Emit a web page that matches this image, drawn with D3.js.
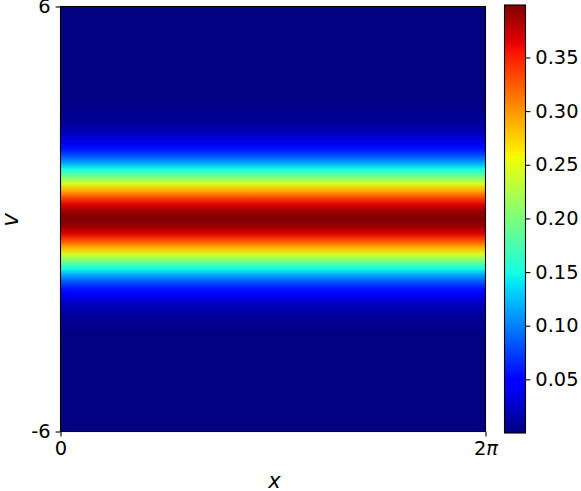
<!DOCTYPE html>
<html>
<head>
<meta charset="utf-8">
<script src="https://cdn.jsdelivr.net/npm/d3@7"></script>
<style>
  body { margin: 0; background: #fff; }
  text { font-family: "DejaVu Sans", sans-serif; }
</style>
</head>
<body>
<div id="chart"></div>
<script>
const width = 581;
const height = 491;

// velocity grid and distribution values (constant along x)
const vValues = [
  -6.0, -5.8, -5.6, -5.4, -5.2, -5.0, -4.8, -4.6, -4.4, -4.2,
  -4.0, -3.8, -3.6, -3.4, -3.2, -3.0, -2.8, -2.6, -2.4, -2.2,
  -2.0, -1.8, -1.6, -1.4, -1.2, -1.0, -0.8, -0.6, -0.4, -0.2,
  0.0,
  0.2, 0.4, 0.6, 0.8, 1.0, 1.2, 1.4, 1.6, 1.8, 2.0,
  2.2, 2.4, 2.6, 2.8, 3.0, 3.2, 3.4, 3.6, 3.8, 4.0,
  4.2, 4.4, 4.6, 4.8, 5.0, 5.2, 5.4, 5.6, 5.8, 6.0
];
const fValues = [
  0, 0, 0, 0, 0, 0, 0, 0, 0, 0,
  0.0001, 0.0003, 0.0006, 0.0012, 0.0024, 0.0044, 0.0079, 0.0136, 0.0224, 0.0355,
  0.054, 0.079, 0.1109, 0.1497, 0.1942, 0.242, 0.2897, 0.3332, 0.3683, 0.391,
  0.3989,
  0.391, 0.3683, 0.3332, 0.2897, 0.242, 0.1942, 0.1497, 0.1109, 0.079, 0.054,
  0.0355, 0.0224, 0.0136, 0.0079, 0.0044, 0.0024, 0.0012, 0.0006, 0.0003, 0.0001,
  0, 0, 0, 0, 0, 0, 0, 0, 0, 0
];
const xTicks = [0, 2 * Math.PI];
const vTicks = [-6, 6];
const cbTicks = [0.05, 0.10, 0.15, 0.20, 0.25, 0.30, 0.35];

// matplotlib "jet"
const jetStops = [0, 0.11, 0.125, 0.34, 0.35, 0.375, 0.64, 0.65, 0.66, 0.89, 0.91, 1];
const jetColors = [
  [0, 0, 0.5], [0, 0, 1], [0, 0, 1], [0, 0.86, 1], [0, 0.9, 0.968], [0.081, 1, 0.887],
  [0.935, 1, 0.032], [0.968, 0.963, 0], [1, 0.926, 0], [1, 0.074, 0], [0.909, 0, 0], [0.5, 0, 0]
].map(c => d3.rgb(c[0] * 255, c[1] * 255, c[2] * 255).toString());

const fMin = 0;
const fMax = d3.max(fValues);
const jet = d3.scaleLinear().domain(jetStops).range(jetColors).clamp(true);
const color = d3.scaleLinear().domain([fMin, fMax]).range([0, 1]);

const plot = { left: 60.5, top: 6.5, right: 485.5, bottom: 431.5 };
const cbar = { left: 504.5, right: 525.5, top: 5, bottom: 433 };

const x = d3.scaleLinear().domain([0, 2 * Math.PI]).range([plot.left, plot.right]);
const y = d3.scaleLinear().domain([-6, 6]).range([plot.bottom, plot.top]);
const cy = d3.scaleLinear().domain([fMin, fMax]).range([cbar.bottom, cbar.top]);

const svg = d3.select("#chart").append("svg")
  .attr("width", width)
  .attr("height", height);

const defs = svg.append("defs");

// field gradient along v, stops must go top -> bottom
const rows = vValues.map((v, i) => ({ v, f: fValues[i] }))
  .sort((a, b) => d3.descending(a.v, b.v));

const fieldGrad = defs.append("linearGradient")
  .attr("id", "field")
  .attr("gradientUnits", "userSpaceOnUse")
  .attr("x1", 0).attr("x2", 0)
  .attr("y1", plot.top).attr("y2", plot.bottom);
fieldGrad.selectAll("stop")
  .data(rows)
  .join("stop")
  .attr("offset", d => (y(d.v) - plot.top) / (plot.bottom - plot.top))
  .attr("stop-color", d => jet(color(d.f)));

svg.append("rect")
  .attr("x", x(0))
  .attr("y", y(6))
  .attr("width", x(2 * Math.PI) - x(0))
  .attr("height", y(-6) - y(6))
  .attr("fill", "url(#field)");

// axes
const fontSize = 19.4;
const yAxis = svg.append("g")
  .attr("transform", `translate(${plot.left},0)`)
  .call(d3.axisLeft(y).tickValues(vTicks).tickSize(4.9).tickPadding(4.9).tickFormat(d => String(d)));
const xAxis = svg.append("g")
  .attr("transform", `translate(0,${plot.bottom})`)
  .call(d3.axisBottom(x).tickValues(xTicks).tickSize(4.9).tickPadding(4.9).tickFormat(() => ""));

xAxis.selectAll(".tick text").each(function (d, i) {
  const t = d3.select(this);
  if (i === 0) {
    t.text("0");
  } else {
    t.append("tspan").text("2");
    t.append("tspan").attr("font-style", "italic").text("π");
  }
});

[xAxis, yAxis].forEach(a => {
  a.select(".domain").remove();
  a.selectAll(".tick line").attr("stroke", "#000").attr("stroke-width", 1.1);
  a.selectAll(".tick text").attr("font-size", fontSize).attr("fill", "#000")
    .attr("font-family", "DejaVu Sans");
});

// frame
svg.append("rect")
  .attr("x", plot.left).attr("y", plot.top)
  .attr("width", plot.right - plot.left).attr("height", plot.bottom - plot.top)
  .attr("fill", "none").attr("stroke", "#000").attr("stroke-width", 1.1);

// axis labels
svg.append("text")
  .attr("x", (plot.left + plot.right) / 2 + 1.5)
  .attr("y", 488)
  .attr("text-anchor", "middle")
  .attr("font-size", 21)
  .attr("font-style", "italic")
  .text("x");

svg.append("text")
  .attr("transform", `translate(17.5,${(plot.top + plot.bottom) / 2 + 1}) rotate(-90)`)
  .attr("text-anchor", "middle")
  .attr("font-size", 23)
  .attr("font-style", "italic")
  .text("v");

// colorbar
const cbGrad = defs.append("linearGradient")
  .attr("id", "cbar")
  .attr("x1", 0).attr("x2", 0).attr("y1", 1).attr("y2", 0);
cbGrad.selectAll("stop")
  .data(jetStops)
  .join("stop")
  .attr("offset", d => d)
  .attr("stop-color", d => jet(d));

svg.append("rect")
  .attr("x", cbar.left).attr("y", cbar.top)
  .attr("width", cbar.right - cbar.left).attr("height", cbar.bottom - cbar.top)
  .attr("fill", "url(#cbar)")
  .attr("stroke", "#000").attr("stroke-width", 1.1);

const cbAxis = svg.append("g")
  .attr("transform", `translate(${cbar.right},0)`)
  .call(d3.axisRight(cy).tickValues(cbTicks).tickSize(4.9).tickPadding(4.9).tickFormat(d3.format(".2f")));
cbAxis.select(".domain").remove();
cbAxis.selectAll(".tick line").attr("stroke", "#000").attr("stroke-width", 1.1);
cbAxis.selectAll(".tick text").attr("font-size", fontSize).attr("fill", "#000")
  .attr("font-family", "DejaVu Sans");
</script>
</body>
</html>
